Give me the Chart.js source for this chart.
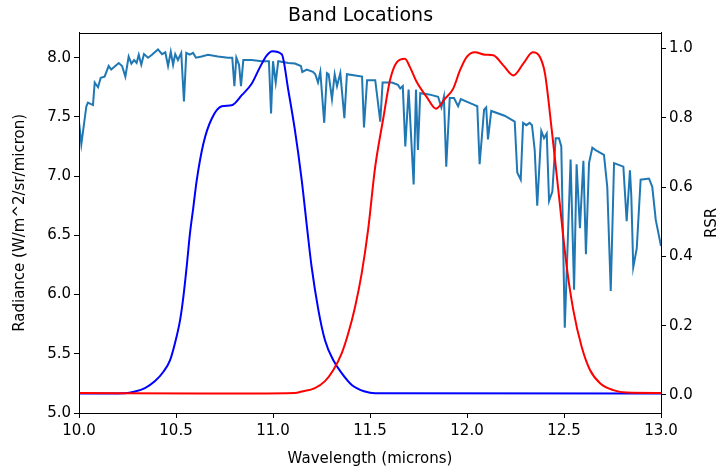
<!DOCTYPE html>
<html>
<head>
<meta charset="utf-8">
<script src="https://cdn.jsdelivr.net/npm/chart.js@4.4.0/dist/chart.umd.min.js"></script>
<style>
  html, body { margin: 0; padding: 0; background: #fff; }
  #wrap { width: 721px; height: 472px; }
</style>
</head>
<body>
<div id="wrap"><canvas id="bandChart" width="721" height="472"></canvas></div>
<script>
// Radiance spectrum (W/m^2/sr/micron) vs wavelength (microns)
const radWavelength = [
    10.000, 10.012, 10.038, 10.046, 10.072, 10.081, 10.098, 10.112, 10.132, 10.153,
    10.166, 10.205, 10.222, 10.239, 10.256, 10.270, 10.284, 10.297, 10.308, 10.321,
    10.335, 10.356, 10.376, 10.407, 10.428, 10.445, 10.459, 10.473, 10.485, 10.496,
    10.510, 10.527, 10.541, 10.553, 10.571, 10.588, 10.603, 10.632, 10.665, 10.716,
    10.768, 10.790, 10.801, 10.811, 10.825, 10.835, 10.847, 10.890, 10.942, 10.979,
    10.990, 11.000, 11.014, 11.027, 11.079, 11.113, 11.144, 11.151, 11.174, 11.206,
    11.218, 11.232, 11.244, 11.264, 11.278, 11.287, 11.304, 11.318, 11.330, 11.347,
    11.368, 11.381, 11.424, 11.459, 11.469, 11.485, 11.527, 11.553, 11.565, 11.613,
    11.644, 11.656, 11.669, 11.682, 11.699, 11.725, 11.737, 11.747, 11.759, 11.804,
    11.851, 11.868, 11.881, 11.893, 11.911, 11.933, 11.954, 11.968, 12.040, 12.053,
    12.065, 12.088, 12.099, 12.108, 12.125, 12.194, 12.246, 12.259, 12.277, 12.289,
    12.306, 12.323, 12.335, 12.349, 12.362, 12.383, 12.397, 12.411, 12.423, 12.440,
    12.457, 12.474, 12.486, 12.504, 12.534, 12.552, 12.565, 12.582, 12.600, 12.613,
    12.629, 12.646, 12.663, 12.706, 12.723, 12.741, 12.758, 12.806, 12.823, 12.840,
    12.847, 12.857, 12.875, 12.895, 12.938, 12.955, 12.973, 13.000
];
const radiance = [
    7.46, 7.27, 7.59, 7.62, 7.60, 7.79, 7.75, 7.83, 7.84, 7.93,
    7.90, 7.955, 7.93, 7.84, 8.01, 7.95, 7.98, 7.955, 8.025, 7.94,
    8.03, 8.00, 8.025, 8.07, 8.03, 8.045, 7.93, 8.05, 7.94, 8.03,
    7.98, 8.04, 7.63, 8.04, 8.025, 8.04, 8.00, 8.01, 8.025, 8.01,
    8.00, 8.00, 7.76, 8.00, 7.94, 7.76, 7.98, 7.98, 7.97, 7.97,
    7.53, 7.97, 7.79, 7.97, 7.955, 7.95, 7.93, 7.88, 7.90, 7.88,
    7.86, 7.79, 7.88, 7.45, 7.87, 7.86, 7.65, 7.86, 7.76, 7.87,
    7.49, 7.86, 7.85, 7.84, 7.41, 7.81, 7.81, 7.46, 7.79, 7.79,
    7.77, 7.74, 7.76, 7.25, 7.73, 6.93, 7.73, 7.22, 7.70, 7.69,
    7.67, 7.58, 7.67, 7.08, 7.66, 7.66, 7.59, 7.65, 7.60, 7.59,
    7.10, 7.56, 7.58, 7.31, 7.55, 7.51, 7.46, 7.03, 6.97, 7.45,
    7.43, 7.45, 7.43, 7.22, 6.75, 7.38, 7.32, 7.36, 6.79, 6.87,
    7.32, 7.32, 7.25, 5.72, 7.14, 6.04, 7.10, 6.56, 7.13, 6.34,
    7.11, 7.24, 7.22, 7.18, 6.91, 6.03, 7.11, 7.08, 6.62, 7.05,
    6.83, 6.23, 6.39, 6.97, 6.98, 6.91, 6.63, 6.41
];

// Relative spectral response of the first band (blue)
const band1Wavelength = [
    10.000, 10.237, 10.289, 10.340, 10.392, 10.435, 10.469, 10.495, 10.521, 10.538,
    10.555, 10.572, 10.589, 10.607, 10.641, 10.684, 10.736, 10.787, 10.839, 10.890,
    10.933, 10.968, 10.996, 11.045, 11.079, 11.113, 11.148, 11.177, 11.199, 11.234,
    11.268, 11.311, 11.354, 11.406, 11.474, 11.526, 13.000
];
const band1Rsr = [
    0.004, 0.005, 0.010, 0.020, 0.040, 0.067, 0.100, 0.150, 0.216, 0.283,
    0.370, 0.466, 0.540, 0.620, 0.725, 0.797, 0.833, 0.836, 0.865, 0.898,
    0.946, 0.980, 0.992, 0.983, 0.879, 0.764, 0.620, 0.475, 0.370, 0.245,
    0.158, 0.100, 0.063, 0.029, 0.010, 0.005, 0.004
];

// Relative spectral response of the second band (red)
const band2Wavelength = [
    10.000, 10.624, 11.113, 11.148, 11.216, 11.268, 11.311, 11.354, 11.388, 11.423,
    11.457, 11.491, 11.526, 11.569, 11.603, 11.638, 11.680, 11.706, 11.741, 11.792,
    11.840, 11.887, 11.929, 11.964, 11.998, 12.041, 12.093, 12.136, 12.187, 12.239,
    12.290, 12.339, 12.376, 12.402, 12.437, 12.471, 12.514, 12.548, 12.591, 12.634,
    12.686, 12.754, 12.823, 13.000
];
const band2Rsr = [
    0.006, 0.004, 0.006, 0.010, 0.020, 0.040, 0.072, 0.120, 0.178, 0.254,
    0.350, 0.480, 0.655, 0.800, 0.908, 0.960, 0.970, 0.946, 0.903, 0.860,
    0.826, 0.855, 0.884, 0.937, 0.975, 0.989, 0.982, 0.980, 0.951, 0.922,
    0.956, 0.989, 0.975, 0.927, 0.764, 0.590, 0.370, 0.245, 0.139, 0.072,
    0.034, 0.014, 0.007, 0.006
];

const FONT = "'DejaVu Sans', sans-serif";
const RSR_TITLE = 'RSR';

function toPoints(xs, ys) {
    return xs.map((x, i) => ({ x: x, y: ys[i] }));
}

// top spine + right axis title read bottom-to-top (chart.js turns it the other way)
const framePlugin = {
    id: 'frame',
    afterDraw(chart) {
        const { ctx, chartArea } = chart;
        const right = chart.scales.y2;
        ctx.save();
        ctx.strokeStyle = '#000';
        ctx.lineWidth = 1;
        ctx.strokeRect(Math.round(chartArea.left) + 0.5, Math.round(chartArea.top) + 0.5,
            Math.round(chartArea.right - chartArea.left), Math.round(chartArea.bottom - chartArea.top));

        ctx.translate(right.right - 9, (chartArea.top + chartArea.bottom) / 2);
        ctx.rotate(-Math.PI / 2);
        ctx.fillStyle = '#000';
        ctx.font = '15px ' + FONT;
        ctx.textAlign = 'center';
        ctx.textBaseline = 'middle';
        ctx.fillText(RSR_TITLE, 0, 0);
        ctx.restore();
    }
};

Chart.defaults.color = '#000';
Chart.defaults.font.family = FONT;
Chart.defaults.font.size = 15;

const ctx = document.getElementById('bandChart');
new Chart(ctx.getContext('2d'), {
    type: 'line',
    data: {
        datasets: [
            {
                label: 'Band 2',
                data: toPoints(band2Wavelength, band2Rsr),
                yAxisID: 'y2',
                borderColor: '#ff0000',
                borderWidth: 2,
                pointRadius: 0,
                cubicInterpolationMode: 'monotone',
                fill: false
            },
            {
                label: 'Band 1',
                data: toPoints(band1Wavelength, band1Rsr),
                yAxisID: 'y2',
                borderColor: '#0000ff',
                borderWidth: 2,
                pointRadius: 0,
                cubicInterpolationMode: 'monotone',
                fill: false
            },
            {
                label: 'Radiance',
                data: toPoints(radWavelength, radiance),
                yAxisID: 'y',
                borderColor: '#1f77b4',
                borderWidth: 2,
                pointRadius: 0,
                tension: 0,
                fill: false
            }
        ]
    },
    options: {
        responsive: false,
        animation: false,
        devicePixelRatio: 1,
        layout: { padding: 0 },
        plugins: {
            legend: { display: false },
            tooltip: { enabled: false },
            title: {
                display: true,
                text: 'Band Locations',
                color: '#000',
                font: { family: FONT, size: 19, weight: 'normal' },
                padding: { top: 5, bottom: 5 }
            }
        },
        scales: {
            x: {
                type: 'linear',
                min: 10,
                max: 13,
                afterFit: s => { s.height = 59; },
                grid: { drawOnChartArea: false, drawTicks: true, tickLength: 5, tickColor: '#000' },
                border: { display: true, color: '#000', width: 1 },
                ticks: {
                    stepSize: 0.5,
                    includeBounds: false,
                    padding: 4,
                    maxRotation: 0,
                    callback: v => v.toFixed(1)
                },
                title: { display: true, text: 'Wavelength (microns)', padding: { bottom: 4 } }
            },
            y: {
                type: 'linear',
                position: 'left',
                min: 5.0,
                max: 8.21,
                afterFit: s => { s.width = 79; },
                grid: { drawOnChartArea: false, drawTicks: true, tickLength: 5, tickColor: '#000' },
                border: { display: true, color: '#000', width: 1 },
                ticks: {
                    stepSize: 0.5,
                    includeBounds: false,
                    padding: 3,
                    callback: v => v.toFixed(1)
                },
                title: { display: true, text: 'Radiance (W/m^2/sr/micron)', padding: { top: 11 } }
            },
            y2: {
                type: 'linear',
                position: 'right',
                min: -0.052,
                max: 1.045,
                afterFit: s => { s.width = 60; },
                grid: { drawOnChartArea: false, drawTicks: true, tickLength: 5, tickColor: '#000' },
                border: { display: true, color: '#000', width: 1 },
                ticks: {
                    stepSize: 0.2,
                    includeBounds: false,
                    padding: 3,
                    callback: v => v.toFixed(1)
                },
                title: { display: false }
            }
        }
    },
    plugins: [framePlugin]
});
</script>
</body>
</html>
